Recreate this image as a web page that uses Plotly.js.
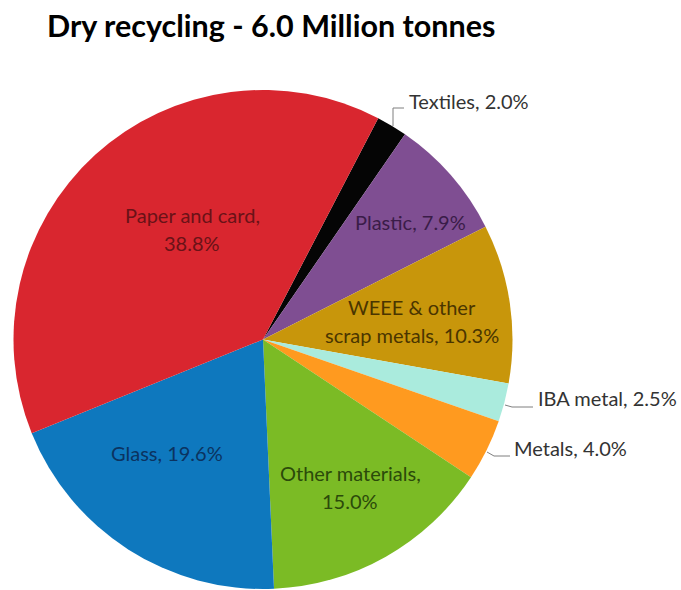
<!DOCTYPE html>
<html>
<head>
<meta charset="utf-8">
<script src="https://cdn.plot.ly/plotly-3.0.1.min.js"></script>
<style>html,body{margin:0;padding:0;background:#fff;}#chart{width:681px;height:590px;}</style>
</head>
<body>
<div id="chart"></div>
<script>
// Data
var categories = ["Textiles", "Plastic", "WEEE & other scrap metals", "IBA metal", "Metals", "Other materials", "Glass", "Paper and card"];
var shares = [2.0, 7.9, 10.3, 2.5, 4.0, 15.0, 19.6, 38.8];
var title = "Dry recycling - 6.0 Million tonnes";

// Styles
var colors = ["#050505", "#7F4E92", "#C8960B", "#AAEBDD", "#FF9A1F", "#7BBB25", "#0E78BE", "#D9262F"];
var W = 681, H = 590;
function px(x) { return x / W; }
function py(y) { return 1 - y / H; }

var FONT = "Lato, 'Open Sans', sans-serif";
var FS = 20;

function lbl(i) { return shares[i].toFixed(1) + "%"; }
var labelSpecs = [
  {i: 7, lines: [categories[7] + ",", lbl(7)], x: 192, y: [215, 243], color: "#6A1217"},
  {i: 1, lines: [categories[1] + ", " + lbl(1)], x: 410, y: [222], color: "#3A1C48"},
  {i: 2, lines: ["WEEE & other", "scrap metals, " + lbl(2)], x: 412, y: [307, 335], color: "#4A3500"},
  {i: 6, lines: [categories[6] + ", " + lbl(6)], x: 167, y: [453], color: "#0B3360"},
  {i: 5, lines: [categories[5] + ",", lbl(5)], x: 350, y: [473, 501], color: "#2B4A0A"}
];
var outsideSpecs = [
  {i: 0, x: 407, y: 101},
  {i: 3, x: 536, y: 398},
  {i: 4, x: 512, y: 448}
];

var annotations = [];
labelSpecs.forEach(function (s) {
  s.lines.forEach(function (t, k) {
    annotations.push({
      xref: "paper", yref: "paper", x: px(s.x), y: py(s.y[k]),
      xanchor: "center", yanchor: "middle", showarrow: false,
      text: t, font: {family: FONT, size: FS, color: s.color}
    });
  });
});
outsideSpecs.forEach(function (s) {
  annotations.push({
    xref: "paper", yref: "paper", x: px(s.x), y: py(s.y),
    xanchor: "left", yanchor: "middle", showarrow: false,
    text: categories[s.i] + ", " + lbl(s.i),
    font: {family: FONT, size: FS, color: "#333333"}
  });
});

function seg(x0, y0, x1, y1) {
  return {type: "line", xref: "paper", yref: "paper",
    x0: px(x0), y0: py(y0), x1: px(x1), y1: py(y1),
    line: {color: "#7f7f7f", width: 1}};
}
var shapes = [
  seg(393, 126, 393, 108), seg(393, 108, 404, 108),
  seg(505, 405, 512, 407), seg(512, 407, 533, 407),
  seg(487, 452, 494, 456), seg(494, 456, 510, 456)
];

var trace = {
  type: "pie",
  labels: categories,
  values: shares,
  sort: false,
  direction: "clockwise",
  rotation: 27.5,
  marker: {colors: colors, line: {width: 0}},
  textinfo: "none",
  hoverinfo: "label+percent",
  showlegend: false,
  domain: {x: [px(13), px(513)], y: [py(589), py(90)]}
};

var layout = {
  width: W, height: H,
  margin: {l: 0, r: 0, t: 0, b: 0},
  paper_bgcolor: "#ffffff",
  title: {
    text: "<b>" + title + "</b>",
    x: px(47), xanchor: "left", xref: "paper",
    y: py(26), yanchor: "middle", yref: "container",
    font: {family: FONT, size: 30.5, color: "#000000"}
  },
  annotations: annotations,
  shapes: shapes
};

Plotly.newPlot("chart", [trace], layout, {displayModeBar: false, staticPlot: true});
</script>
</body>
</html>
